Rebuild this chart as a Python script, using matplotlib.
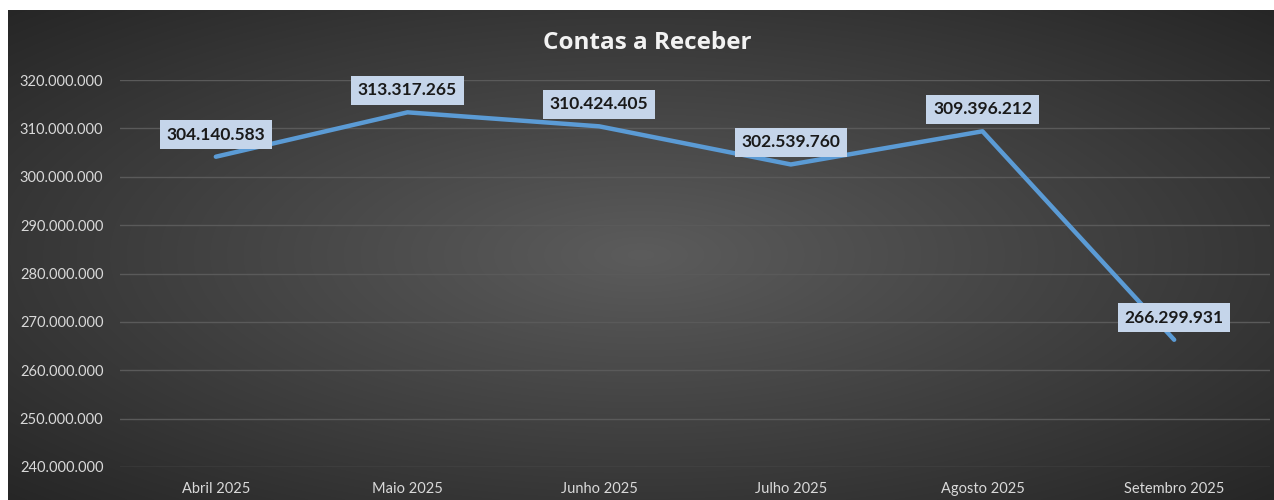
import numpy as np
import matplotlib
matplotlib.use("Agg")
import matplotlib.pyplot as plt

months = ["Abril 2025", "Maio 2025", "Junho 2025", "Julho 2025",
          "Agosto 2025", "Setembro 2025"]
values = [304140583, 313317265, 310424405, 302539760, 309396212, 266299931]
yticks = [240e6, 250e6, 260e6, 270e6, 280e6, 290e6, 300e6, 310e6, 320e6]

LINE_COLOR = "#5b9bd5"
LABEL_BG = "#c5d5ea"
TEXT_COLOR = "#d9d9d9"


def fmt(v):
    return f"{v:,.0f}".replace(",", ".")


W, H = 1274, 500
fig = plt.figure(figsize=(W / 100, H / 100), dpi=100)
fig.patch.set_facecolor("white")

# dark radial gradient background
bg = fig.add_axes([8 / W, 0, (W - 8) / W, (H - 10) / H])
yy, xx = np.mgrid[-1:1:300j, -1:1:700j]
r = np.sqrt(xx ** 2 + yy ** 2) / np.sqrt(2)
shade = 0.36 - 0.21 * r
bg.imshow(np.dstack([shade] * 3), aspect="auto", extent=[0, 1, 0, 1],
          interpolation="bilinear")
bg.set_axis_off()

ax = fig.add_axes([120 / W, 33 / H, 1150 / W, 387 / H])
ax.set_facecolor("none")
x = np.arange(len(months))
ax.plot(x, values, color=LINE_COLOR, linewidth=3.2, solid_capstyle="round",
        solid_joinstyle="round", zorder=3)

for xi, v in zip(x, values):
    ax.annotate(fmt(v), (xi, v), xytext=(0, 22), textcoords="offset pixels",
                ha="center", va="center", fontsize=12.5, fontweight="bold",
                family="Lato", color="#1a1a1a", zorder=4,
                bbox=dict(boxstyle="square,pad=0.38", facecolor=LABEL_BG,
                          edgecolor="none"))

ax.set_xlim(-0.5, len(months) - 0.5)
ax.set_ylim(240e6, 320e6)
ax.set_yticks(yticks)
ax.set_yticklabels([fmt(t) for t in yticks])
ax.set_xticks(x)
ax.set_xticklabels(months)
for lab in ax.get_xticklabels() + ax.get_yticklabels():
    lab.set_family("Lato")
    lab.set_fontsize(10.5)
    lab.set_color(TEXT_COLOR)
ax.tick_params(axis="both", length=0)
ax.tick_params(axis="y", pad=12)
ax.tick_params(axis="x", pad=11)
ax.grid(axis="y", color="#5a5a5a", linewidth=1.0)
ax.set_axisbelow(True)
for s in ax.spines.values():
    s.set_visible(False)

fig.text(647 / W, 1 - 43 / H, "Contas a Receber", ha="center", va="center",
         fontsize=17.5, fontweight="bold", family="Open Sans", color="#f2f2f2")

fig.savefig("out.png", dpi=100, facecolor=fig.get_facecolor())
